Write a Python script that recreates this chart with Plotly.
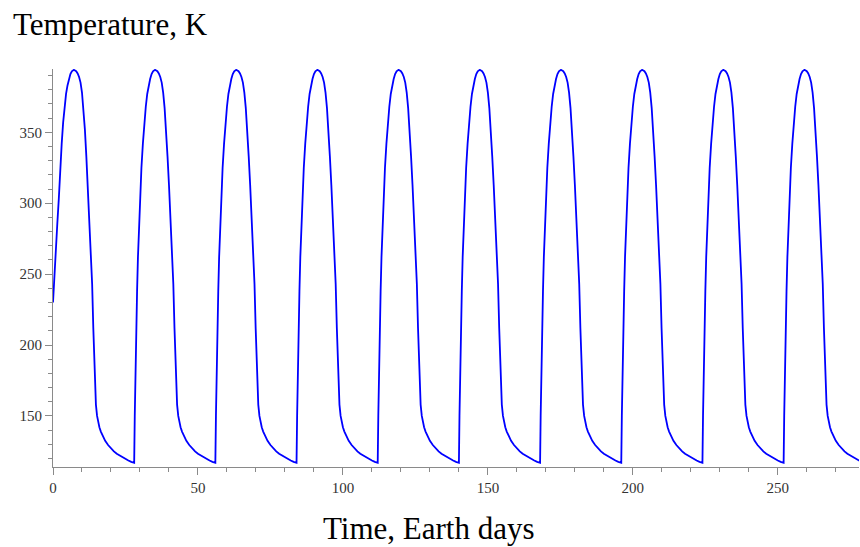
import plotly.graph_objects as go

# ---- data ----
# One day/night cycle: offset from sunrise (days) and temperature (K)
cycle_offset = [0, 0.2, 0.4, 0.7, 1.0, 1.3, 1.6, 2.0, 2.5, 3.0, 3.5, 4.0, 4.5,
                5.0, 5.5, 6.0, 6.5, 7.2, 8.0, 8.5, 9.0, 9.5, 10.0, 10.5, 11.0,
                11.5, 12.0, 12.5, 13.0, 13.5, 13.9, 14.2, 14.5, 14.8, 15.2,
                15.6, 16.0, 16.5, 17.0, 18.0, 19.0, 20.0, 21.0, 22.0, 23.0,
                24.0, 25.0, 26.0, 27.0]
cycle_temp = [117, 150, 180, 210, 238, 262, 282, 303, 325, 342, 357, 368, 377,
              383, 387.5, 391, 393, 394, 393, 391.5, 389, 385, 378, 367, 352,
              333, 313, 293, 270, 243, 212, 192, 172, 158, 150,
              145.5, 142, 139, 136.5, 132.5, 129.5, 127, 125, 123.3, 122,
              120.7, 119.6, 118.6, 117.6]
# Start of each cycle (days)
cycle_starts = [0, 28, 56, 84, 112, 140, 168, 196, 224, 252]
# First cycle begins from an initial temperature rather than the night minimum
first_rise_t = [0, 0.5, 1.0, 1.5]
first_rise_temp = [230, 252, 270, 286]
final_t = 279
final_temp = 117.6

x_ticks = [0, 50, 100, 150, 200, 250]
y_ticks = [150, 200, 250, 300, 350]

# ---- build the series from the read values ----
t_vals, temp_vals = [], []
for i, s in enumerate(cycle_starts):
    if i == 0:
        t_vals += first_rise_t
        temp_vals += first_rise_temp
        for o, v in zip(cycle_offset, cycle_temp):
            if o > first_rise_t[-1] + 0.2:
                t_vals.append(s + o)
                temp_vals.append(v)
    else:
        for o, v in zip(cycle_offset, cycle_temp):
            t_vals.append(s + o)
            temp_vals.append(v)
t_vals.append(final_t)
temp_vals.append(final_temp)

fig = go.Figure()
fig.add_trace(go.Scatter(x=t_vals, y=temp_vals, mode="lines",
                         line=dict(color="#0000FF", width=1.8),
                         hoverinfo="x+y", showlegend=False))

axis_color = "#8a8a8a"
tick_font = dict(family="Liberation Serif, Times New Roman, serif", size=15, color="#333333")

fig.update_xaxes(range=[0, 278], tickvals=x_ticks, ticktext=[str(v) for v in x_ticks],
                 showgrid=False, zeroline=False, showline=True, linecolor=axis_color,
                 linewidth=1, ticks="outside", ticklen=7, tickcolor=axis_color,
                 tickwidth=1, tickfont=tick_font,
                 minor=dict(dtick=10, tick0=0, ticks="outside", ticklen=4,
                            tickcolor=axis_color, tickwidth=1, showgrid=False))
fig.update_yaxes(range=[114, 394.6], tickvals=y_ticks, ticktext=[str(v) for v in y_ticks],
                 showgrid=False, zeroline=False, showline=True, linecolor=axis_color,
                 linewidth=1, ticks="outside", ticklen=7, tickcolor=axis_color,
                 tickwidth=1, tickfont=tick_font,
                 minor=dict(dtick=10, tick0=0, ticks="outside", ticklen=4,
                            tickcolor=axis_color, tickwidth=1, showgrid=False))

title_font = dict(family="Liberation Serif, Times New Roman, serif", size=31, color="#000000")
fig.update_layout(
    width=860, height=547,
    margin=dict(l=53, r=1, t=69, b=80),
    plot_bgcolor="white", paper_bgcolor="white",
    annotations=[
        dict(text="Temperature, K", xref="paper", yref="paper",
             x=(11 - 53) / 806, y=(467 - 25) / 398, xanchor="left", yanchor="middle",
             showarrow=False, font=title_font),
        dict(text="Time, Earth days", xref="paper", yref="paper",
             x=(429 - 53) / 806, y=(467 - 528) / 398, xanchor="center", yanchor="middle",
             showarrow=False, font=title_font),
    ],
)

fig.write_html("out.html", config={"displayModeBar": False},
               post_script="document.body.style.margin='0px';document.body.style.padding='0px';")
